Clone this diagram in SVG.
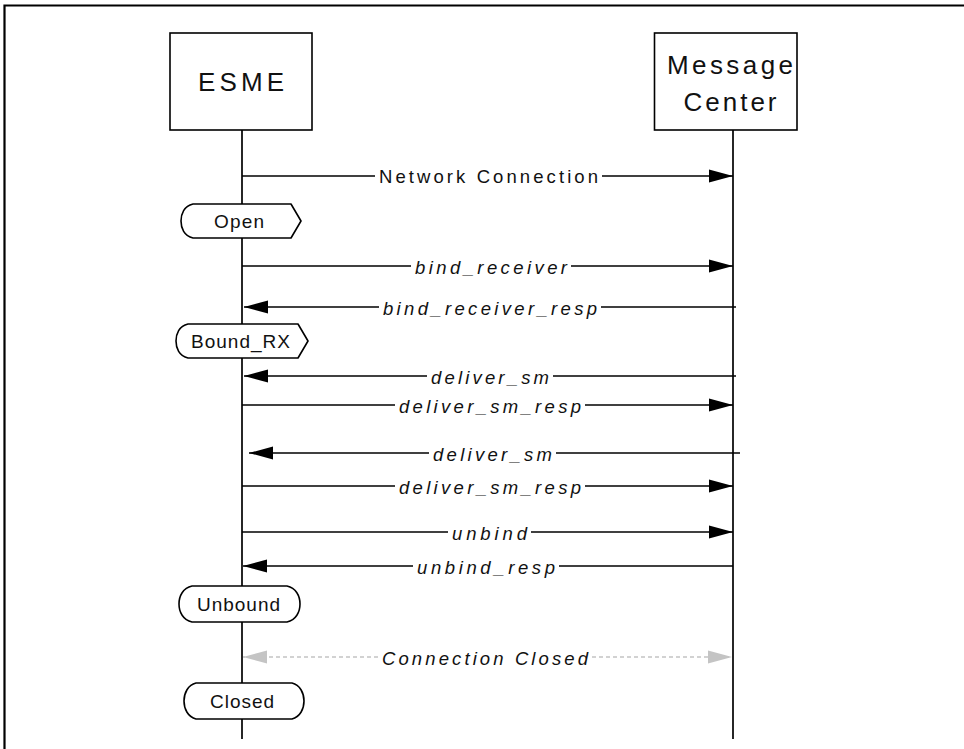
<svg xmlns="http://www.w3.org/2000/svg" width="964" height="749" viewBox="0 0 964 749">
<style>
  .frame { fill: none; stroke: #000; stroke-width: 2.2; }
  .box { fill: #fff; stroke: #000; stroke-width: 1.6; }
  .life { stroke: #000; stroke-width: 1.7; fill: none; }
  .msg { stroke: #000; stroke-width: 1.7; fill: none; }
  .gray { stroke: #c4c4c4; stroke-width: 1.7; fill: none; stroke-dasharray: 4 3; }
  .state { fill: #fff; stroke: #000; stroke-width: 1.6; stroke-linejoin: round; }
  .lbl { font-family: "Liberation Sans", Arial, sans-serif; fill: #111; }
  .big { font-size: 26px; }
  .m { font-size: 18.5px; }
  .it { font-style: italic; }
  .st { font-size: 19px; }
</style>
<defs>
  <marker id="ah" markerUnits="userSpaceOnUse" markerWidth="26" markerHeight="16" refX="24" refY="7" orient="auto">
    <path d="M0,0.5 L24,7 L0,13.5 Z" fill="#000"/>
  </marker>
  <marker id="ahg" markerUnits="userSpaceOnUse" markerWidth="26" markerHeight="16" refX="24" refY="7" orient="auto">
    <path d="M0,0.5 L24,7 L0,13.5 Z" fill="#c4c4c4"/>
  </marker>
</defs>

<rect width="964" height="749" fill="#fff"/>
<path class="frame" d="M4.5,749 V5.5 H964"/>

<g id="lifelines">
  <line class="life" x1="242" y1="130" x2="242" y2="739"/>
  <line class="life" x1="733" y1="130" x2="733" y2="739"/>
</g>

<g id="esme">
  <rect class="box" x="170" y="33" width="142" height="97"/>
  <text class="lbl big" x="241" y="91" text-anchor="middle" textLength="86" lengthAdjust="spacing">ESME</text>
</g>

<g id="message-center">
  <rect class="box" x="654.5" y="33" width="142.5" height="97"/>
  <text class="lbl big" x="730" y="74" text-anchor="middle" textLength="126" lengthAdjust="spacing">Message</text>
  <text class="lbl big" x="730" y="111" text-anchor="middle" textLength="93" lengthAdjust="spacing">Center</text>
</g>

<g id="connectors">
  <line class="msg" x1="242" y1="176" x2="375" y2="176"/>
  <line class="msg" x1="602" y1="176" x2="733" y2="176" marker-end="url(#ah)"/>

  <line class="msg" x1="242" y1="266" x2="411" y2="266"/>
  <line class="msg" x1="571" y1="266" x2="733" y2="266" marker-end="url(#ah)"/>

  <line class="msg" x1="736" y1="307" x2="601" y2="307"/>
  <line class="msg" x1="379" y1="307" x2="244" y2="307" marker-end="url(#ah)"/>

  <line class="msg" x1="736" y1="376" x2="553" y2="376"/>
  <line class="msg" x1="427" y1="376" x2="244" y2="376" marker-end="url(#ah)"/>

  <line class="msg" x1="242" y1="405" x2="395" y2="405"/>
  <line class="msg" x1="585" y1="405" x2="733" y2="405" marker-end="url(#ah)"/>

  <line class="msg" x1="740" y1="453" x2="556" y2="453"/>
  <line class="msg" x1="429" y1="453" x2="249" y2="453" marker-end="url(#ah)"/>

  <line class="msg" x1="242" y1="486" x2="395" y2="486"/>
  <line class="msg" x1="585" y1="486" x2="733" y2="486" marker-end="url(#ah)"/>

  <line class="msg" x1="242" y1="532" x2="448" y2="532"/>
  <line class="msg" x1="531" y1="532" x2="733" y2="532" marker-end="url(#ah)"/>

  <line class="msg" x1="733" y1="566" x2="559" y2="566"/>
  <line class="msg" x1="413" y1="566" x2="243" y2="566" marker-end="url(#ah)"/>

  <line class="gray" x1="378" y1="657" x2="243" y2="657" marker-end="url(#ahg)"/>
  <line class="gray" x1="592" y1="657" x2="732" y2="657" marker-end="url(#ahg)"/>

  <text class="lbl m" x="488.5" y="183" text-anchor="middle" textLength="219" lengthAdjust="spacing">Network Connection</text>
  <text class="lbl m it" x="491" y="274" text-anchor="middle" textLength="152" lengthAdjust="spacing">bind_receiver</text>
  <text class="lbl m it" x="490" y="315" text-anchor="middle" textLength="214" lengthAdjust="spacing">bind_receiver_resp</text>
  <text class="lbl m it" x="490" y="384" text-anchor="middle" textLength="118" lengthAdjust="spacing">deliver_sm</text>
  <text class="lbl m it" x="490" y="413" text-anchor="middle" textLength="182" lengthAdjust="spacing">deliver_sm_resp</text>
  <text class="lbl m it" x="492.5" y="461" text-anchor="middle" textLength="119" lengthAdjust="spacing">deliver_sm</text>
  <text class="lbl m it" x="490" y="494" text-anchor="middle" textLength="182" lengthAdjust="spacing">deliver_sm_resp</text>
  <text class="lbl m it" x="489.5" y="540" text-anchor="middle" textLength="75" lengthAdjust="spacing">unbind</text>
  <text class="lbl m it" x="486" y="574" text-anchor="middle" textLength="138" lengthAdjust="spacing">unbind_resp</text>
  <text class="lbl m it" x="485" y="665" text-anchor="middle" textLength="206" lengthAdjust="spacing">Connection Closed</text>
</g>

<g id="state-open">
  <path class="state" d="M193,204 H291 L301,221 L291,238 H193 C184,236 181,228 181,221 C181,214 184,206 193,204 Z"/>
  <text class="lbl st" x="239" y="227.5" text-anchor="middle" textLength="50" lengthAdjust="spacing">Open</text>
</g>

<g id="state-bound-rx">
  <path class="state" d="M188,324 H298 L308,341 L298,358 H188 C179,356 176,348 176,341 C176,334 179,326 188,324 Z"/>
  <text class="lbl st" x="240.5" y="348" text-anchor="middle" textLength="99" lengthAdjust="spacing">Bound_RX</text>
</g>

<g id="state-unbound">
  <path class="state" d="M192,586 H287 C296,588 300,596 300,604 C300,612 296,620 287,622 H192 C183,620 179,612 179,604 C179,596 183,588 192,586 Z"/>
  <text class="lbl st" x="238.5" y="611" text-anchor="middle" textLength="83" lengthAdjust="spacing">Unbound</text>
</g>

<g id="state-closed">
  <path class="state" d="M196,683 H292 C300,685 304,693 304,701 C304,709 300,717 292,719 H196 C188,717 184,709 184,701 C184,693 188,685 196,683 Z"/>
  <text class="lbl st" x="242" y="708" text-anchor="middle" textLength="64" lengthAdjust="spacing">Closed</text>
</g>
</svg>
